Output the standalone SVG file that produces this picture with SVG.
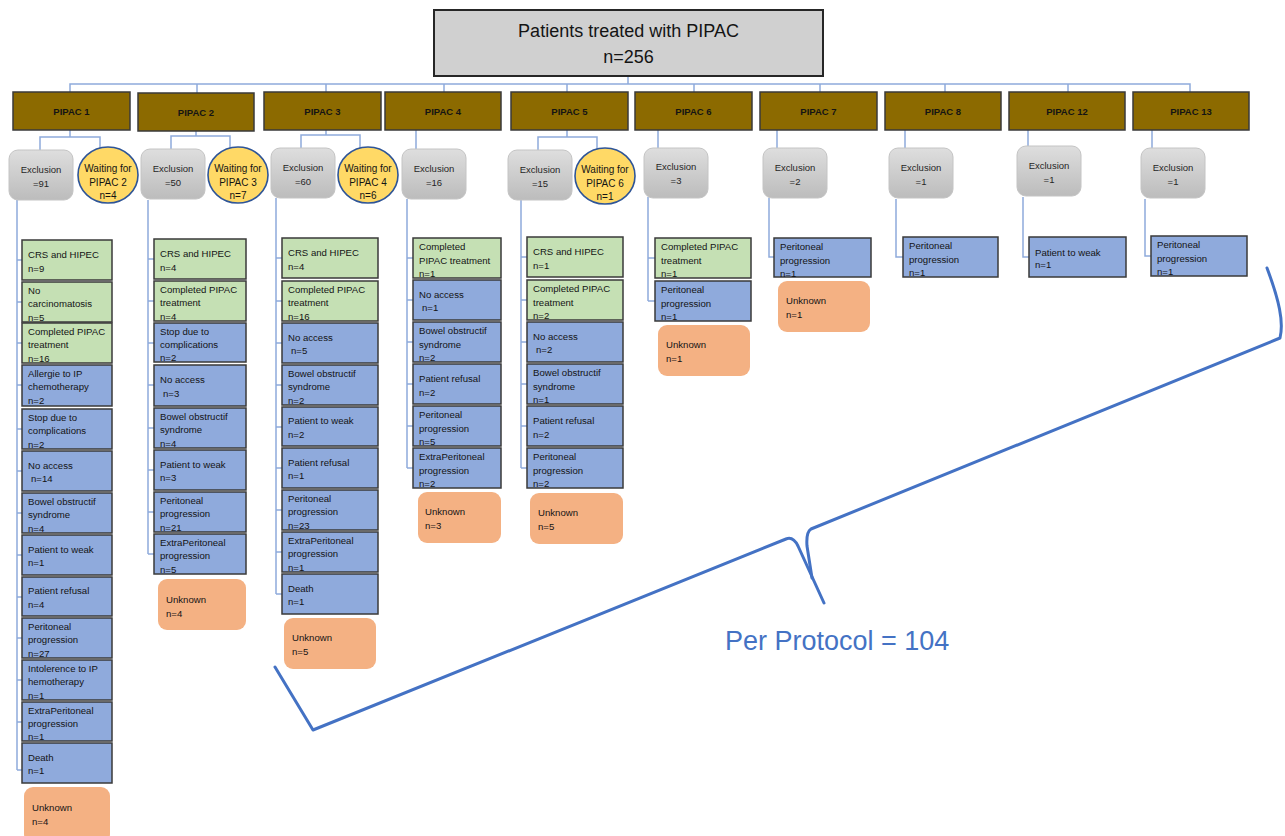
<svg xmlns="http://www.w3.org/2000/svg" width="1285" height="836" viewBox="0 0 1285 836">
  <defs>
    <linearGradient id="gx" x1="0" y1="0" x2="0" y2="1">
      <stop offset="0" stop-color="#dedede"/>
      <stop offset="1" stop-color="#bcbcbc"/>
    </linearGradient>
  </defs>
  <style>
    text{font-family:"Liberation Sans",Arial,sans-serif;fill:#141414}
    .cn{fill:none;stroke:#8eaadb;stroke-width:1.5}
    .title rect{fill:#d0d0d0;stroke:#262626;stroke-width:2}
    .title text{font-size:18px;text-anchor:middle}
    .pp rect{fill:#8c6a00;stroke:#3a3a3a;stroke-width:1.5}
    .pp text{font-size:9.5px;font-weight:bold;text-anchor:middle}
    .ex rect{fill:url(#gx);stroke:#c4c4c4;stroke-width:1}
    .ex text{font-size:9.5px;text-anchor:middle;fill:#262626}
    .wt ellipse{fill:#ffd966;stroke:#2f5597;stroke-width:1.6}
    .wt text{font-size:10px;text-anchor:middle}
    .g rect{fill:#c5e0b4;stroke:#3a3a3a;stroke-width:1.5}
    .b rect{fill:#8faadc;stroke:#3a3a3a;stroke-width:1.5}
    .u rect{fill:#f4b183}
    .g text,.b text,.u text{font-size:9.6px}
    .brace{fill:none;stroke:#4472c4;stroke-width:3;stroke-linecap:round;stroke-linejoin:round}
    .pp-label{font-size:27px;fill:#4472c4}
  </style>

  <!-- connectors -->
  <g id="connectors">
    <path class="cn" d="M628,77 V84 M70,92 V84 H1190 V92 M197,84 V93 M326,84 V92 M444,84 V92 M567,84 V92 M694,84 V92 M820,84 V92 M945,84 V92 M1068,84 V92"/>
    <path class="cn" d="M70,130 V137 M40,150 V137 H100 V148"/>
    <path class="cn" d="M196,131 V136 M171,149 V136 H230 V148"/>
    <path class="cn" d="M326,130 V135 M301,148 V135 H360 V148"/>
    <path class="cn" d="M416,130 V149"/>
    <path class="cn" d="M567,130 V137 M538,150 V137 H597 V151"/>
    <path class="cn" d="M658,130 V148 M777,130 V148 M905,130 V148 M1028,130 V146 M1152,130 V148"/>
    <path class="cn" d="M17,200 V770 M17,260 H22 M17,302 H22 M17,343 H22 M17,385 H22 M17,429 H22 M17,471 H22 M17,513 H22 M17,555 H22 M17,597 H22 M17,638 H22 M17,680 H22 M17,722 H22 M17,770 H22"/>
    <path class="cn" d="M148,200 V554 M148,259 H154 M148,301 H154 M148,343 H154 M148,385 H154 M148,428 H154 M148,470 H154 M148,512 H154 M148,554 H154"/>
    <path class="cn" d="M276,198 V594 M276,258 H282 M276,301 H282 M276,343 H282 M276,385 H282 M276,427 H282 M276,468 H282 M276,510 H282 M276,552 H282 M276,594 H282"/>
    <path class="cn" d="M407,199 V468 M407,258 H413 M407,300 H413 M407,342 H413 M407,384 H413 M407,426 H413 M407,468 H413"/>
    <path class="cn" d="M521,200 V468 M521,257 H527 M521,300 H527 M521,342 H527 M521,384 H527 M521,426 H527 M521,468 H527"/>
    <path class="cn" d="M648,197 V301 M648,258 H655 M648,301 H655"/>
    <path class="cn" d="M769,198 V257 H774 M896,199 V257 H903 M1023,197 V257 H1029 M1145,199 V256 H1151"/>
  </g>

  <!-- root -->
  <g id="root" class="title">
    <rect x="434" y="10" width="389" height="66"/>
    <text x="628.5" y="37">Patients treated with PIPAC</text>
    <text x="628.5" y="63">n=256</text>
  </g>

  <!-- PIPAC rounds -->
  <g id="pipac1" class="pp"><rect x="13" y="92" width="117" height="38"/><text x="71.5" y="115">PIPAC 1</text></g>
  <g id="pipac2" class="pp"><rect x="138" y="93" width="116" height="38"/><text x="196" y="116">PIPAC 2</text></g>
  <g id="pipac3" class="pp"><rect x="264" y="92" width="117" height="38"/><text x="322.5" y="115">PIPAC 3</text></g>
  <g id="pipac4" class="pp"><rect x="385" y="92" width="116" height="38"/><text x="443" y="115">PIPAC 4</text></g>
  <g id="pipac5" class="pp"><rect x="511" y="92" width="117" height="38"/><text x="569.5" y="115">PIPAC 5</text></g>
  <g id="pipac6" class="pp"><rect x="635" y="92" width="117" height="38"/><text x="693.5" y="115">PIPAC 6</text></g>
  <g id="pipac7" class="pp"><rect x="760" y="92" width="117" height="38"/><text x="818.5" y="115">PIPAC 7</text></g>
  <g id="pipac8" class="pp"><rect x="885" y="92" width="116" height="38"/><text x="943" y="115">PIPAC 8</text></g>
  <g id="pipac12" class="pp"><rect x="1009" y="92" width="116" height="38"/><text x="1067" y="115">PIPAC 12</text></g>
  <g id="pipac13" class="pp"><rect x="1133" y="92" width="116" height="38"/><text x="1191" y="115">PIPAC 13</text></g>

  <!-- exclusions -->
  <g id="excl1" class="ex"><rect x="9" y="150" width="64" height="50" rx="9"/><text x="41" y="173">Exclusion</text><text x="41" y="187">=91</text></g>
  <g id="excl2" class="ex"><rect x="141" y="149" width="64" height="50" rx="9"/><text x="173" y="172">Exclusion</text><text x="173" y="186">=50</text></g>
  <g id="excl3" class="ex"><rect x="271" y="148" width="64" height="50" rx="9"/><text x="303" y="171">Exclusion</text><text x="303" y="185">=60</text></g>
  <g id="excl4" class="ex"><rect x="402" y="149" width="64" height="50" rx="9"/><text x="434" y="172">Exclusion</text><text x="434" y="186">=16</text></g>
  <g id="excl5" class="ex"><rect x="508" y="150" width="64" height="50" rx="9"/><text x="540" y="173">Exclusion</text><text x="540" y="187">=15</text></g>
  <g id="excl6" class="ex"><rect x="644" y="148" width="64" height="50" rx="9"/><text x="676" y="170">Exclusion</text><text x="676" y="184">=3</text></g>
  <g id="excl7" class="ex"><rect x="763" y="148" width="64" height="50" rx="9"/><text x="795" y="171">Exclusion</text><text x="795" y="185">=2</text></g>
  <g id="excl8" class="ex"><rect x="889" y="148" width="64" height="50" rx="9"/><text x="921" y="171">Exclusion</text><text x="921" y="185">=1</text></g>
  <g id="excl12" class="ex"><rect x="1017" y="146" width="64" height="50" rx="9"/><text x="1049" y="169">Exclusion</text><text x="1049" y="183">=1</text></g>
  <g id="excl13" class="ex"><rect x="1141" y="148" width="64" height="50" rx="9"/><text x="1173" y="171">Exclusion</text><text x="1173" y="185">=1</text></g>

  <!-- waiting lists -->
  <g id="wait2" class="wt"><ellipse cx="108" cy="175" rx="30" ry="28"/><text x="108" y="172">Waiting for</text><text x="108" y="186">PIPAC 2</text><text x="108" y="199">n=4</text></g>
  <g id="wait3" class="wt"><ellipse cx="238" cy="175" rx="30" ry="28"/><text x="238" y="172">Waiting for</text><text x="238" y="186">PIPAC 3</text><text x="238" y="199">n=7</text></g>
  <g id="wait4" class="wt"><ellipse cx="368" cy="175" rx="30" ry="28"/><text x="368" y="172">Waiting for</text><text x="368" y="186">PIPAC 4</text><text x="368" y="199">n=6</text></g>
  <g id="wait6" class="wt"><ellipse cx="605" cy="176" rx="30" ry="28"/><text x="605" y="173">Waiting for</text><text x="605" y="187">PIPAC 6</text><text x="605" y="200">n=1</text></g>

  <!-- PIPAC 1 outcomes -->
  <g id="p1-crs" class="g"><rect x="22" y="240" width="90" height="40"/><text x="28" y="257.5">CRS and HIPEC</text><text x="28" y="271.5">n=9</text></g>
  <g id="p1-nocarc" class="g"><rect x="22" y="282" width="90" height="40"/><text x="28" y="293.5">No</text><text x="28" y="307">carcinomatosis</text><text x="28" y="320.5">n=5</text></g>
  <g id="p1-completed" class="g"><rect x="22" y="323" width="90" height="40"/><text x="28" y="334.5">Completed PIPAC</text><text x="28" y="348">treatment</text><text x="28" y="361.5">n=16</text></g>
  <g id="p1-allergie" class="b"><rect x="22" y="365" width="90" height="41"/><text x="28" y="376.5">Allergie to IP</text><text x="28" y="390">chemotherapy</text><text x="28" y="404">n=2</text></g>
  <g id="p1-stop" class="b"><rect x="22" y="409" width="90" height="40"/><text x="28" y="420.5">Stop due to</text><text x="28" y="434">complications</text><text x="28" y="447.5">n=2</text></g>
  <g id="p1-noaccess" class="b"><rect x="22" y="451" width="90" height="40"/><text x="28" y="468.5">No access</text><text x="31" y="482">n=14</text></g>
  <g id="p1-bowel" class="b"><rect x="22" y="493" width="90" height="40"/><text x="28" y="504.5">Bowel obstructif</text><text x="28" y="518">syndrome</text><text x="28" y="531.5">n=4</text></g>
  <g id="p1-weak" class="b"><rect x="22" y="535" width="90" height="40"/><text x="28" y="552.5">Patient to weak</text><text x="28" y="566">n=1</text></g>
  <g id="p1-refusal" class="b"><rect x="22" y="577" width="90" height="39"/><text x="28" y="594">Patient refusal</text><text x="28" y="607.5">n=4</text></g>
  <g id="p1-perit" class="b"><rect x="22" y="618" width="90" height="40"/><text x="28" y="629.5">Peritoneal</text><text x="28" y="643">progression</text><text x="28" y="656.5">n=27</text></g>
  <g id="p1-intol" class="b"><rect x="22" y="660" width="90" height="40"/><text x="28" y="671.5">Intolerence to IP</text><text x="28" y="685">hemotherapy</text><text x="28" y="698.5">n=1</text></g>
  <g id="p1-extra" class="b"><rect x="22" y="702" width="90" height="39"/><text x="28" y="713.5">ExtraPeritoneal</text><text x="28" y="727">progression</text><text x="28" y="740">n=1</text></g>
  <g id="p1-death" class="b"><rect x="22" y="743" width="90" height="40"/><text x="28" y="760.5">Death</text><text x="28" y="774">n=1</text></g>
  <g id="p1-unknown" class="u"><rect x="24" y="787" width="86" height="56" rx="9"/><text x="32" y="811">Unknown</text><text x="32" y="825">n=4</text></g>

  <!-- PIPAC 2 outcomes -->
  <g id="p2-crs" class="g"><rect x="154" y="239" width="92" height="40"/><text x="160" y="256.5">CRS and HIPEC</text><text x="160" y="270.5">n=4</text></g>
  <g id="p2-completed" class="g"><rect x="154" y="281" width="92" height="40"/><text x="160" y="292.5">Completed PIPAC</text><text x="160" y="306">treatment</text><text x="160" y="319.5">n=4</text></g>
  <g id="p2-stop" class="b"><rect x="154" y="323" width="92" height="39"/><text x="160" y="334.5">Stop due to</text><text x="160" y="348">complications</text><text x="160" y="361">n=2</text></g>
  <g id="p2-noaccess" class="b"><rect x="154" y="365" width="92" height="41"/><text x="160" y="383">No access</text><text x="163" y="396.5">n=3</text></g>
  <g id="p2-bowel" class="b"><rect x="154" y="408" width="92" height="40"/><text x="160" y="419.5">Bowel obstructif</text><text x="160" y="433">syndrome</text><text x="160" y="446.5">n=4</text></g>
  <g id="p2-weak" class="b"><rect x="154" y="450" width="92" height="40"/><text x="160" y="467.5">Patient to weak</text><text x="160" y="481">n=3</text></g>
  <g id="p2-perit" class="b"><rect x="154" y="492" width="92" height="40"/><text x="160" y="503.5">Peritoneal</text><text x="160" y="517">progression</text><text x="160" y="530.5">n=21</text></g>
  <g id="p2-extra" class="b"><rect x="154" y="534" width="92" height="40"/><text x="160" y="545.5">ExtraPeritoneal</text><text x="160" y="559">progression</text><text x="160" y="572.5">n=5</text></g>
  <g id="p2-unknown" class="u"><rect x="158" y="579" width="88" height="51" rx="9"/><text x="166" y="603">Unknown</text><text x="166" y="617">n=4</text></g>

  <!-- PIPAC 3 outcomes -->
  <g id="p3-crs" class="g"><rect x="282" y="238" width="96" height="40"/><text x="288" y="255.5">CRS and HIPEC</text><text x="288" y="269.5">n=4</text></g>
  <g id="p3-completed" class="g"><rect x="282" y="281" width="96" height="40"/><text x="288" y="292.5">Completed PIPAC</text><text x="288" y="306">treatment</text><text x="288" y="319.5">n=16</text></g>
  <g id="p3-noaccess" class="b"><rect x="282" y="323" width="96" height="40"/><text x="288" y="340.5">No access</text><text x="291" y="354">n=5</text></g>
  <g id="p3-bowel" class="b"><rect x="282" y="365" width="96" height="40"/><text x="288" y="376.5">Bowel obstructif</text><text x="288" y="390">syndrome</text><text x="288" y="403.5">n=2</text></g>
  <g id="p3-weak" class="b"><rect x="282" y="407" width="96" height="39"/><text x="288" y="424">Patient to weak</text><text x="288" y="438">n=2</text></g>
  <g id="p3-refusal" class="b"><rect x="282" y="448" width="96" height="40"/><text x="288" y="465.5">Patient refusal</text><text x="288" y="479">n=1</text></g>
  <g id="p3-perit" class="b"><rect x="282" y="490" width="96" height="40"/><text x="288" y="501.5">Peritoneal</text><text x="288" y="515">progression</text><text x="288" y="528.5">n=23</text></g>
  <g id="p3-extra" class="b"><rect x="282" y="532" width="96" height="40"/><text x="288" y="543.5">ExtraPeritoneal</text><text x="288" y="557">progression</text><text x="288" y="570.5">n=1</text></g>
  <g id="p3-death" class="b"><rect x="282" y="574" width="96" height="40"/><text x="288" y="591.5">Death</text><text x="288" y="605">n=1</text></g>
  <g id="p3-unknown" class="u"><rect x="284" y="618" width="92" height="51" rx="9"/><text x="292" y="641">Unknown</text><text x="292" y="655">n=5</text></g>

  <!-- PIPAC 4 outcomes -->
  <g id="p4-completed" class="g"><rect x="413" y="238" width="88" height="40"/><text x="419" y="250">Completed</text><text x="419" y="263.5">PIPAC treatment</text><text x="419" y="277">n=1</text></g>
  <g id="p4-noaccess" class="b"><rect x="413" y="280" width="88" height="40"/><text x="419" y="297.5">No access</text><text x="422" y="311">n=1</text></g>
  <g id="p4-bowel" class="b"><rect x="413" y="322" width="88" height="40"/><text x="419" y="334">Bowel obstructif</text><text x="419" y="347.5">syndrome</text><text x="419" y="361">n=2</text></g>
  <g id="p4-refusal" class="b"><rect x="413" y="364" width="88" height="40"/><text x="419" y="382">Patient refusal</text><text x="419" y="395.5">n=2</text></g>
  <g id="p4-perit" class="b"><rect x="413" y="406" width="88" height="40"/><text x="419" y="418">Peritoneal</text><text x="419" y="431.5">progression</text><text x="419" y="445">n=5</text></g>
  <g id="p4-extra" class="b"><rect x="413" y="448" width="88" height="40"/><text x="419" y="460">ExtraPeritoneal</text><text x="419" y="473.5">progression</text><text x="419" y="487">n=2</text></g>
  <g id="p4-unknown" class="u"><rect x="418" y="492" width="83" height="51" rx="9"/><text x="425" y="515">Unknown</text><text x="425" y="529">n=3</text></g>

  <!-- PIPAC 5 outcomes -->
  <g id="p5-crs" class="g"><rect x="527" y="237" width="96" height="40"/><text x="533" y="254.5">CRS and HIPEC</text><text x="533" y="268.5">n=1</text></g>
  <g id="p5-completed" class="g"><rect x="527" y="280" width="96" height="40"/><text x="533" y="292">Completed PIPAC</text><text x="533" y="305.5">treatment</text><text x="533" y="319">n=2</text></g>
  <g id="p5-noaccess" class="b"><rect x="527" y="322" width="96" height="40"/><text x="533" y="339.5">No access</text><text x="536" y="353">n=2</text></g>
  <g id="p5-bowel" class="b"><rect x="527" y="364" width="96" height="40"/><text x="533" y="376">Bowel obstructif</text><text x="533" y="389.5">syndrome</text><text x="533" y="403">n=1</text></g>
  <g id="p5-refusal" class="b"><rect x="527" y="406" width="96" height="40"/><text x="533" y="424">Patient refusal</text><text x="533" y="437.5">n=2</text></g>
  <g id="p5-perit" class="b"><rect x="527" y="448" width="96" height="40"/><text x="533" y="460">Peritoneal</text><text x="533" y="473.5">progression</text><text x="533" y="487">n=2</text></g>
  <g id="p5-unknown" class="u"><rect x="530" y="493" width="93" height="51" rx="9"/><text x="538" y="516">Unknown</text><text x="538" y="530">n=5</text></g>

  <!-- PIPAC 6 outcomes -->
  <g id="p6-completed" class="g"><rect x="655" y="238" width="96" height="40"/><text x="661" y="250">Completed PIPAC</text><text x="661" y="263.5">treatment</text><text x="661" y="277">n=1</text></g>
  <g id="p6-perit" class="b"><rect x="655" y="281" width="96" height="40"/><text x="661" y="293">Peritoneal</text><text x="661" y="306.5">progression</text><text x="661" y="320">n=1</text></g>
  <g id="p6-unknown" class="u"><rect x="658" y="325" width="92" height="51" rx="9"/><text x="666" y="348">Unknown</text><text x="666" y="362">n=1</text></g>

  <!-- PIPAC 7 outcomes -->
  <g id="p7-perit" class="b"><rect x="774" y="238" width="97" height="39"/><text x="780" y="250">Peritoneal</text><text x="780" y="263.5">progression</text><text x="780" y="276.5">n=1</text></g>
  <g id="p7-unknown" class="u"><rect x="778" y="281" width="92" height="51" rx="9"/><text x="786" y="304">Unknown</text><text x="786" y="318">n=1</text></g>

  <!-- PIPAC 8 outcomes -->
  <g id="p8-perit" class="b"><rect x="903" y="237" width="95" height="40"/><text x="909" y="249">Peritoneal</text><text x="909" y="262.5">progression</text><text x="909" y="276">n=1</text></g>

  <!-- PIPAC 12 outcomes -->
  <g id="p12-weak" class="b"><rect x="1029" y="237" width="97" height="40"/><text x="1035" y="255.5">Patient to weak</text><text x="1035" y="268">n=1</text></g>

  <!-- PIPAC 13 outcomes -->
  <g id="p13-perit" class="b"><rect x="1151" y="236" width="96" height="40"/><text x="1157" y="248">Peritoneal</text><text x="1157" y="261.5">progression</text><text x="1157" y="275">n=1</text></g>

  <!-- per-protocol brace -->
  <g id="per-protocol">
    <path class="brace" d="M275,667 L313,730 L786,539 Q793,536 798,546 L824,603"/>
    <path class="brace" d="M1267,268 C1279,300 1284,322 1280,338 L811,529 Q806,532 807,546 L812,578"/>
    <text class="pp-label" x="725" y="650">Per Protocol = 104</text>
  </g>
</svg>
